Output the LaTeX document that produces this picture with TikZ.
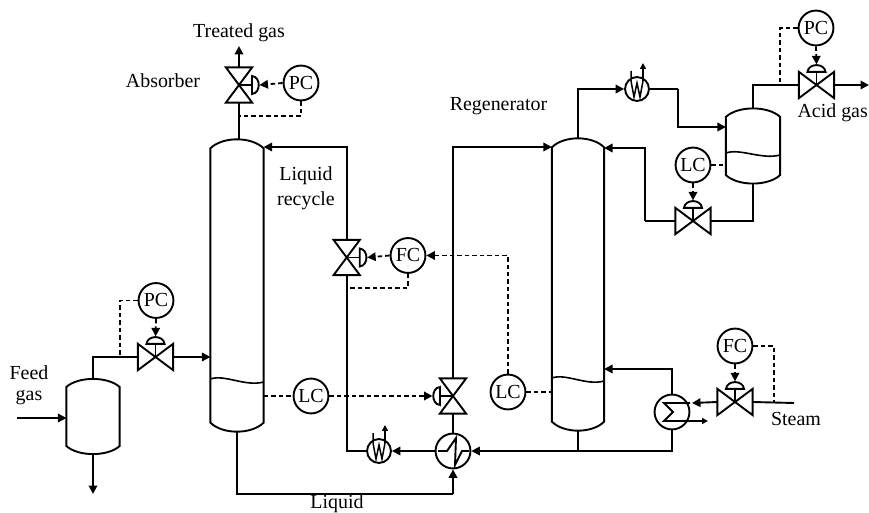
\documentclass[tikz,border=0pt]{standalone}
\usepackage{fontspec}
\setmainfont{Liberation Serif}
\usetikzlibrary{arrows.meta,calc}
\tikzset{
  pipe/.style={line width=1.9pt,line join=miter},
  sig/.style={line width=1.8pt,dash pattern=on 4.5pt off 3pt},
  tip/.style={-{Triangle[length=8.5pt,width=8.5pt]}},
  smalltip/.style={-{Triangle[length=6pt,width=6pt]}},
  inst/.style={circle,draw,line width=1.9pt,minimum size=35pt,inner sep=0pt,fill=white},
  xch/.style={circle,draw,line width=1.9pt,minimum size=35pt,inner sep=0pt},
  cool/.style={circle,draw,line width=1.9pt,minimum size=24pt,inner sep=0pt},
  hv/.style={minimum width=35pt,minimum height=26pt,inner sep=0pt},
  vv/.style={minimum width=26pt,minimum height=35pt,inner sep=0pt},
  label/.style={inner sep=0pt},
}
\newcommand{\vesselX}[6]{% name, x, ymid, width, height, rise
  \node[minimum width=#4pt,minimum height=#5pt,inner sep=0pt] (#1) at (#2,#3) {};
  \coordinate (#1 top) at ($(#1.north)+(0,-#6)$);
  \coordinate (#1 bot) at ($(#1.south)+(0,#6)$);
  \draw[pipe] (#1.south west) -- (#1.north west)
    .. controls +(12,-#6*1.33) and +(-12,-#6*1.33) .. (#1.north east)
    -- (#1.south east)
    .. controls +(-12,#6*1.33) and +(12,#6*1.33) .. cycle;
}
\newcommand{\levelX}[3]{%
  \draw[pipe,line width=1.6pt] (#1.west |- 0,#2) .. controls +(14,-5) and +(-18,5) .. (#1.east |- 0,#3);
}
\newcommand{\hvalveX}[3]{%
  \node[hv] (#1) at (#2,#3) {};
  \draw[pipe] (#1.north west) -- (#1.south east) -- (#1.north east) -- (#1.south west) -- cycle;
  \draw[pipe] (#1.center) -- (#1.north);
  \draw[pipe,fill=white] ($(#1.north)+(-9,0)$) .. controls +(1,-9) and +(-1,-9) .. ($(#1.north)+(9,0)$) -- cycle;
  \coordinate (#1 act) at ($(#1.north)+(0,-7.5)$);
}
\newcommand{\vvalveX}[4]{% name, x, y, side (+1 right, -1 left)
  \node[vv] (#1) at (#2,#3) {};
  \draw[pipe] (#1.north west) -- (#1.south east) -- (#1.south west) -- (#1.north east) -- cycle;
  \draw[pipe] (#1.center) -- +(#4*13,0);
  \draw[pipe,fill=white] ($(#1.center)+(#4*13,-9)$) .. controls +(#4*9,1) and +(#4*9,-1) .. ($(#1.center)+(#4*13,9)$) -- cycle;
  \coordinate (#1 act) at ($(#1.center)+(#4*20.5,0)$);
}
\newcommand{\coolerX}[3]{%
  \node[cool] (#1) at (#2,#3) {};
  \draw[pipe,line width=1.5pt] ($(#1)+(-6,-18)$) -- ($(#1)+(-6,-8)$) -- ($(#1)+(-3,8)$) -- ($(#1)+(0,-6)$) -- ($(#1)+(3,8)$) -- ($(#1)+(6,-8)$);
  \draw[pipe,line width=1.5pt,smalltip] ($(#1)+(6,-8)$) -- ($(#1)+(6,-26)$);
}
\begin{document}
\begin{tikzpicture}[x=1bp,y=-1bp,font=\fontsize{20}{22}\selectfont]
\useasboundingbox (0,0) rectangle (869,513);
\clip (0,0) rectangle (869,513);
\fill[white] (0,0) rectangle (869,513);

% vessels
\vesselX{abs}{237}{285.5}{53}{275}{9}
\levelX{abs}{379}{382}
\vesselX{reg}{578}{284.5}{52}{275}{9}
\levelX{reg}{378}{381}
\vesselX{feed}{93}{416.5}{53}{59}{8}
\vesselX{rfx}{753}{146}{54}{58}{8.5}
\levelX{rfx}{153}{155}

% valves
\vvalveX{tv}{239}{85}{1}
\hvalveX{fv}{155.5}{357}
\vvalveX{rv}{346.7}{257.5}{1}
\vvalveX{lv}{453}{396}{-1}
\hvalveX{sv}{735}{402}
\hvalveX{rfv}{693}{221}
\hvalveX{agv}{816.5}{85}

% instruments
\node[inst] (pca) at (301,83) {PC};
\node[inst] (pcf) at (156,300.5) {PC};
\node[inst] (lca) at (311,396) {LC};
\node[inst] (fcr) at (408,255.5) {FC};
\node[inst] (lcr) at (508,392) {LC};
\node[inst] (fcs) at (735,346) {FC};
\node[inst] (lcd) at (693,165) {LC};
\node[inst] (pcd) at (816,28) {PC};

% exchangers
\node[xch] (hx) at (453,451) {};
\draw[pipe] ($(hx)+(-15,0)$) -- ($(hx)+(-6,0)$) -- ($(hx)+(3,-13)$) -- ($(hx)+(2,14)$) -- ($(hx)+(9,0)$) -- ($(hx)+(16,0)$);
\coolerX{cla}{379}{451}
\coolerX{clb}{637}{89}
\node[xch] (reb) at (672,412) {};

% free ends and corners
\coordinate (tvout) at (239,46);
\coordinate (feedin) at (17,418);
\coordinate (feedout) at (93,494);
\coordinate (steamin) at (794,403);
\coordinate (agout) at (869,85);
\coordinate (liqturn) at (453,494);
\coordinate (rebout) at (708,421);
\coordinate (clbturn) at (678,89);
\coordinate (rfxturn) at (645,221);

% process lines
\draw[pipe] (tv.south |- abs top) -- (tv.south);
\draw[pipe,tip] (tv.north) -- (tvout);
\draw[pipe,tip] (feedin) -- (feed.west |- feedin);
\draw[pipe,tip] (feed bot) -- (feedout);
\draw[pipe] (feed top) |- (fv.west);
\draw[pipe,tip] (fv.east) -- (abs.west |- fv.east);
\draw[pipe] (abs bot) |- (liqturn);
\draw[pipe,tip] (liqturn) -- (hx.south);
\draw[pipe,tip] (hx.west) -- (cla.east);
\draw[pipe] (cla.west) -| (rv.south);
\coordinate (rvtop) at (346.7,147);
\draw[pipe,tip] (rv.north) |- (abs.east |- rvtop);
\draw[pipe] (hx.north) -- (lv.south);
\draw[pipe,tip] (lv.north) |- (reg.west |- rvtop);
\draw[pipe,tip] (reg bot) |- (hx.east);
\draw[pipe] (reg bot |- hx) -| (reb.south);
\coordinate (rebret) at (672,369);
\draw[pipe,tip] (reb.north) |- (reg.east |- rebret);
\draw[pipe,tip] (reg top) |- (clb.west);
\draw[pipe] (clb.east) -- (clbturn);
\coordinate (rfxin) at (678,127);
\draw[pipe,tip] (clbturn) |- (rfx.west |- rfxin);
\draw[pipe] (rfx top) |- (agv.west);
\draw[pipe,tip] (agv.east) -- (agout);
\draw[pipe] (rfx bot) |- (rfv.east);
\draw[pipe] (rfv.west) -- (rfxturn);
\coordinate (rfxret) at (645,148);
\draw[pipe,tip] (rfxturn) |- (reg.east |- rfxret);
\draw[pipe] (steamin) -- (sv.east);
\draw[pipe,tip] (sv.west) -- ($(reb.center)+(20,-9)$);

% reboiler bundle
\draw[pipe,smalltip] ($(reb.center)+(18,-9)$) -- ($(reb.center)+(-8,-9)$) -- ($(reb.center)+(1,0)$) -- ($(reb.center)+(-8,9)$) -- (rebout);

% signal lines
\coordinate (pcatap) at (239,116);
\draw[sig] (pca.south) |- (pcatap);
\draw[sig,tip] (pca.west) -- (tv act);
\coordinate (pcftap) at (120,357);
\draw[sig] (pcf.west) -| (pcftap);
\draw[sig,tip] (pcf.south) -- (fv act);
\coordinate (lcaleft) at (264,396);
\draw[sig] (lcaleft) -- (lca.west);
\draw[sig,tip] (lca.east) -- (lv act);
\coordinate (fcrtap) at (346.7,288);
\draw[sig] (fcr.south) |- (fcrtap);
\draw[sig,tip] (fcr.west) -- (rv act);
\draw[sig,tip] (lcr.north) |- (fcr.east);
\coordinate (lcrtap) at (552,392);
\draw[sig] (lcr.east) -- (lcrtap);
\coordinate (fcstap) at (774,403);
\draw[sig] (fcs.east) -| (fcstap);
\draw[sig,tip] (fcs.south) -- (sv act);
\coordinate (lcdtap) at (726,165);
\draw[sig] (lcd.east) -- (lcdtap);
\draw[sig,tip] (lcd.south) -- (rfv act);
\coordinate (pcdtap) at (780,85);
\draw[sig] (pcd.west) -| (pcdtap);
\draw[sig,tip] (pcd.south) -- (agv act);

% labels
\node[label] (l1) at (239,33) {Treated gas};
\node[label] (l2) at (163,81) {Absorber};
\node[label] (l3) at (498.5,106) {Regenerator};
\node[label] (l4) at (306,176) {Liquid};
\node[label] (l5) at (306,201) {recycle};
\node[label] (l6) at (29,373) {Feed};
\node[label] (l7) at (29,398) {gas};
\node[label,anchor=east] (l8) at (868,113) {Acid gas};
\node[label] (l9) at (796,419) {Steam};
\node[label] (l10) at (337,504) {Liquid};
\end{tikzpicture}
\end{document}
